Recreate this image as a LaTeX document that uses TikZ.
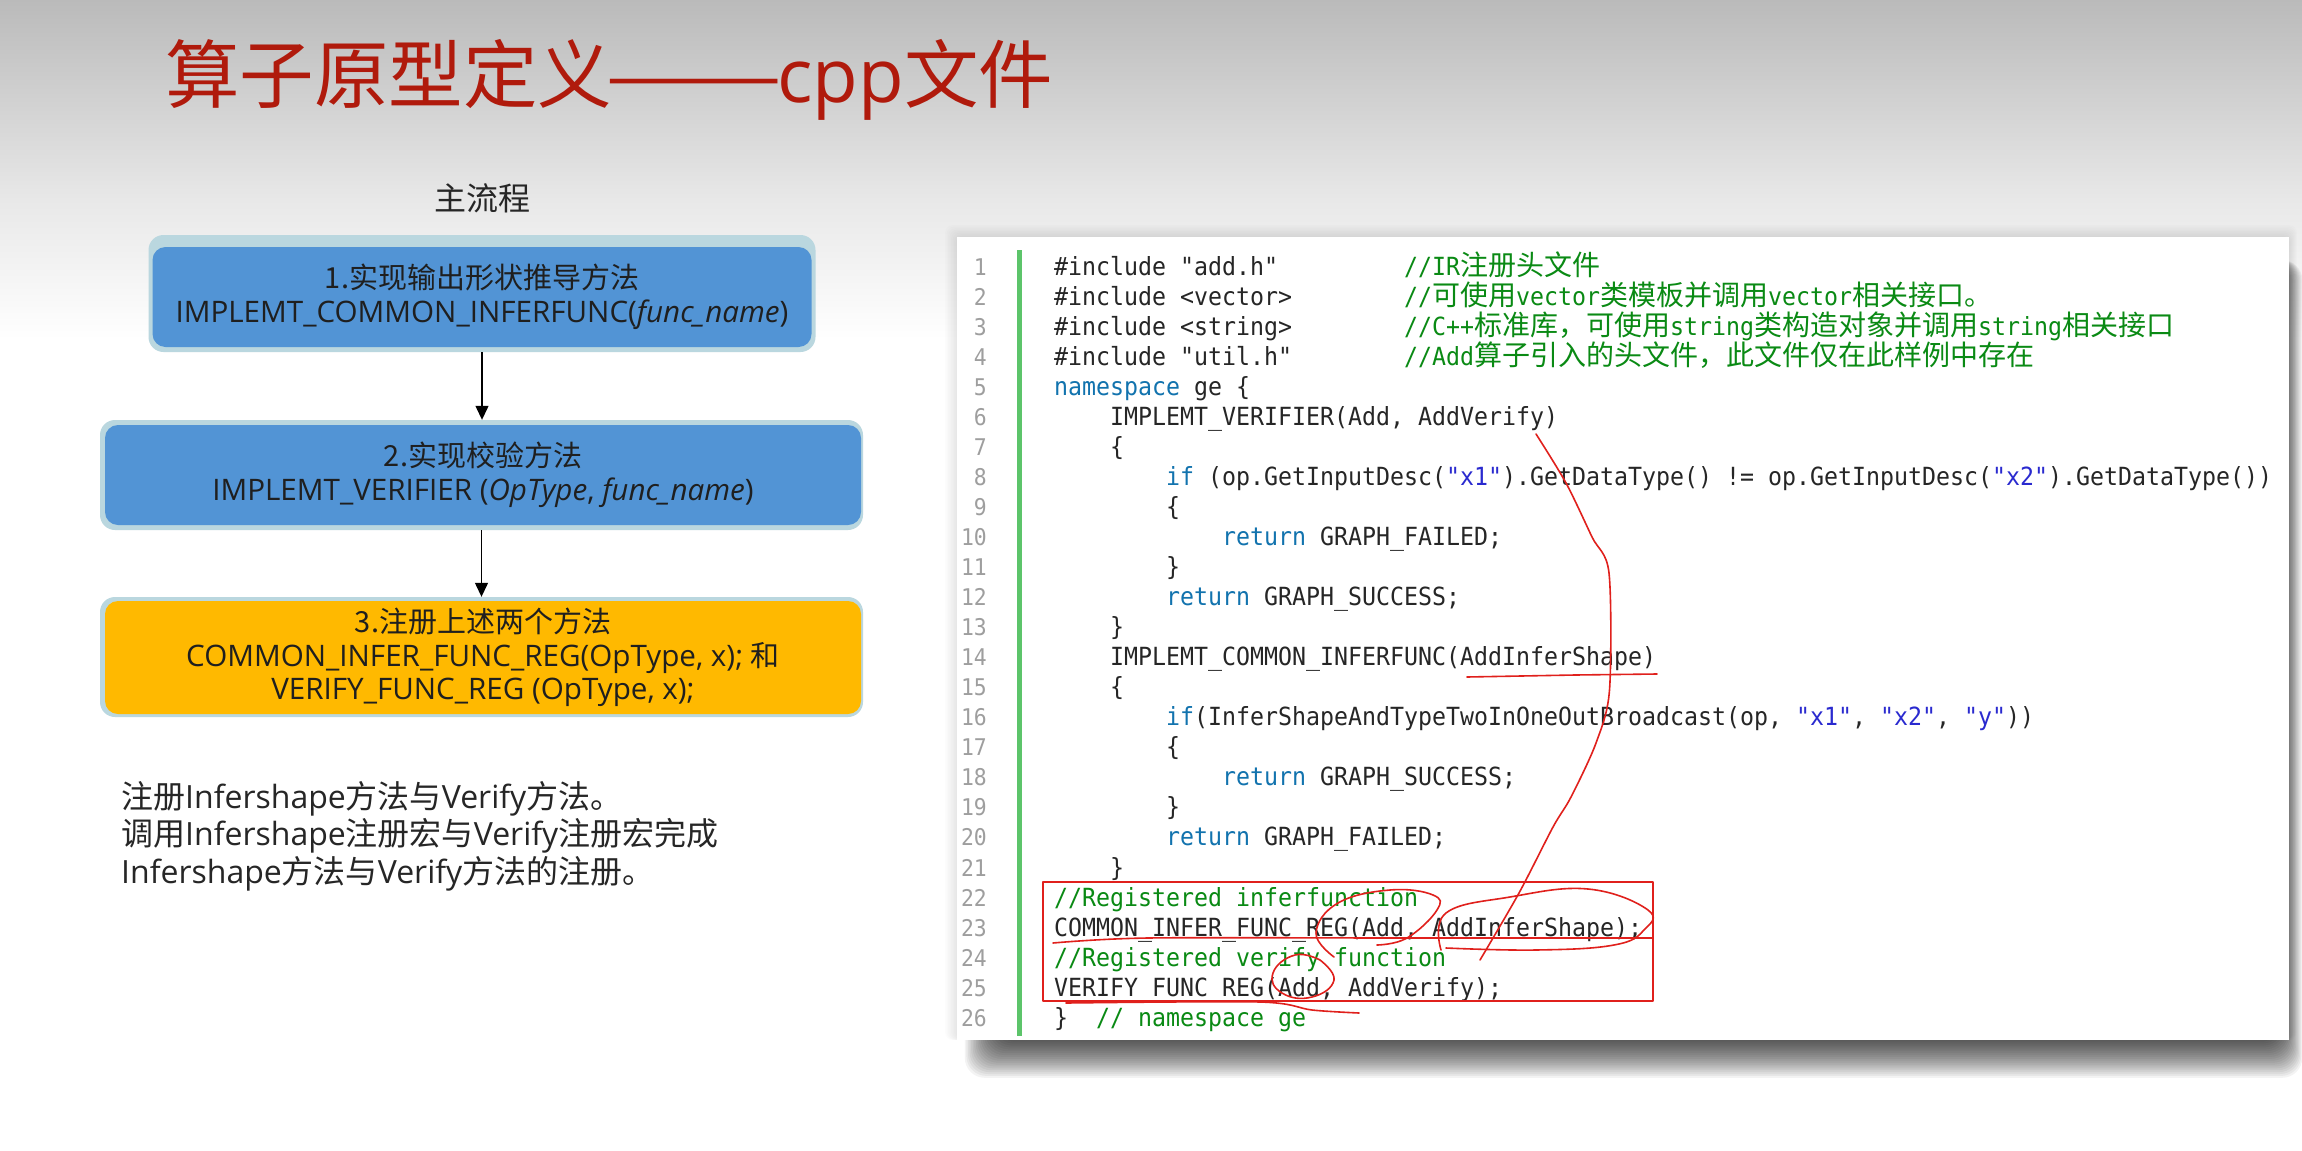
\documentclass[tikz,border=0pt]{standalone}
\usepackage{fontspec}
\usetikzlibrary{arrows.meta}
\setmainfont{Open Sans}
\newfontfamily\zhfont{Noto Sans CJK SC}
\newfontfamily\monof[FakeStretch=0.93]{DejaVu Sans Mono}
\newcommand{\zh}[1]{{\zhfont #1}}
\newcommand{\zc}[1]{{\fontsize{28}{30}\selectfont\zhfont #1}}
\newcommand{\zb}[1]{{\fontsize{29}{33.5}\selectfont\zhfont #1}}
\newcommand{\sk}[1]{\hspace*{\dimexpr 14pt*#1\relax}}
\newcommand{\monosp}{\monof\spaceskip 14pt\relax}
\definecolor{codegreen}{HTML}{0A8A14}
\definecolor{keyblue}{HTML}{1273AE}
\definecolor{strblue}{HTML}{2A2ACF}
\definecolor{codeink}{HTML}{262626}
\definecolor{penred}{HTML}{E0201C}
\definecolor{titlered}{HTML}{B01A0C}
\definecolor{boxblue}{HTML}{5294D5}
\definecolor{boxgold}{HTML}{FFB900}
\definecolor{haloc}{HTML}{BAD7DF}
\definecolor{barcol}{HTML}{5CC46A}
\newcommand{\cm}[1]{\textcolor{codegreen}{#1}}
\newcommand{\kw}[1]{\textcolor{keyblue}{#1}}
\newcommand{\st}[1]{\textcolor{strblue}{#1}}
\newcommand{\cl}[4]{\node[codeline] (#1) at ({1054+14*#3},{275+30.05*(#2-1)}) {#4};}
\tikzset{
  codeline/.style={anchor=base west,inner sep=0pt,text=codeink,
    font=\fontsize{25}{30}\selectfont\monosp},
  linenum/.style={anchor=base east,inner sep=0pt,text=black!38,
    font=\fontsize{23}{30}\selectfont\monosp},
  halobox/.style={draw=none,fill=haloc,rounded corners=15pt,inner sep=0pt},
  flowbox/.style={draw=none,rounded corners=13pt,inner sep=0pt,align=center,text=black!88,
    font=\fontsize{29.6}{33.5}\selectfont},
  flowarrow/.style={draw=black,line width=1.3pt,-{Triangle[length=14pt,width=13pt]}},
  pen/.style={draw=penred,line width=1.6pt,line cap=round,line join=round},
  plain/.style={inner sep=0pt,text=black!85,font=\fontsize{32}{37.5}\selectfont},
}
\begin{document}
\begin{tikzpicture}[x=1pt,y=-1pt]
\useasboundingbox (0,0) rectangle (2302,1151);
\fill[white] (0,0) rectangle (2302,1151);
\shade[top color=black!27,bottom color=black!9,draw=none] (0,0) rectangle (2302,200);
\shade[top color=black!9,bottom color=white,draw=none] (0,200) rectangle (2302,340);

% title
\node[anchor=west,inner sep=0pt,text=titlered,font=\fontsize{74.5}{80}\selectfont] (title) at (165,80)
  {\zh{算子原型定义}\hspace{-7pt}\scalebox{1.42}[1]{\zh{——}}\hspace{-5pt}cpp\zh{文件}};

% flow
\node[plain,anchor=center] (mainflow) at (482,198) {\zh{主流程}};
\node[halobox,minimum width=667pt,minimum height=117pt] (o1) at (482,293.5) {};
\node[flowbox,fill=boxblue,minimum width=659pt,minimum height=100pt] (b1) at (482,297)
  {\zb{1.实现输出形状推导方法}\\IMPLEMT\_COMMON\_INFERFUNC(\textit{func\_name})};
\node[halobox,minimum width=763pt,minimum height=110pt] (o2) at (481.5,475) {};
\node[flowbox,fill=boxblue,minimum width=756pt,minimum height=100pt] (b2) at (483,475)
  {\zb{2.实现校验方法}\\IMPLEMT\_VERIFIER (\textit{OpType}, \textit{func\_name})};
\node[halobox,minimum width=763pt,minimum height=120pt] (o3) at (481.5,657) {};
\node[flowbox,fill=boxgold,minimum width=756pt,minimum height=113pt] (b3) at (483,657.5)
  {\zb{3.注册上述两个方法}\\COMMON\_INFER\_FUNC\_REG(OpType, x); \zb{和}\\VERIFY\_FUNC\_REG (OpType, x);};
\draw[flowarrow] (o1.south) -- (o1.south |- o2.north);
\draw[flowarrow] (o2.south) -- (o2.south |- o3.north);

\node[plain,anchor=north west,align=left] (para) at (121,781)
  {\zh{注册}Infershape\zh{方法与}Verify\zh{方法。}\\
   \zh{调用}Infershape\zh{注册宏与}Verify\zh{注册宏完成}\\
   Infershape\zh{方法与}Verify\zh{方法的注册。}};

% code panel shadow
\foreach \i in {1,...,8}
  \fill[black,opacity=0.012,rounded corners=8pt] (957-\i*1.5,237-\i*1.5) rectangle (2289+\i,1040);
\foreach \i in {1,...,22}
  \fill[black,opacity=0.048,rounded corners=20pt] (1000-\i*1.6,260) rectangle (2278+\i*1.1,1036+\i*1.9);
\fill[white] (957,237) rectangle (2289,1040);
\fill[barcol] (1017,250) rectangle (1022,1036);

% line numbers
\foreach \i in {1,...,26}
  \node[linenum] (n\i) at (987,{275+30.05*(\i-1)}) {\i};

% code
\cl{c1}{1}{0}{\#include "add.h"\sk{9}\cm{//IR\zc{注册头文件}}}
\cl{c2}{2}{0}{\#include <vector>\sk{8}\cm{//\zc{可使用}vector\zc{类模板并调用}vector\zc{相关接口。}}}
\cl{c3}{3}{0}{\#include <string>\sk{8}\cm{//C++\zc{标准库，可使用}string\zc{类构造对象并调用}string\zc{相关接口}}}
\cl{c4}{4}{0}{\#include "util.h"\sk{8}\cm{//Add\zc{算子引入的头文件，此文件仅在此样例中存在}}}
\cl{c5}{5}{0}{\kw{namespace} ge \{}
\cl{c6}{6}{4}{IMPLEMT\_VERIFIER(Add, AddVerify)}
\cl{c7}{7}{4}{\{}
\cl{c8}{8}{8}{\kw{if} (op.GetInputDesc(\st{"x1"}).GetDataType() != op.GetInputDesc(\st{"x2"}).GetDataType())}
\cl{c9}{9}{8}{\{}
\cl{c10}{10}{12}{\kw{return} GRAPH\_FAILED;}
\cl{c11}{11}{8}{\}}
\cl{c12}{12}{8}{\kw{return} GRAPH\_SUCCESS;}
\cl{c13}{13}{4}{\}}
\cl{c14}{14}{4}{IMPLEMT\_COMMON\_INFERFUNC(AddInferShape)}
\cl{c15}{15}{4}{\{}
\cl{c16}{16}{8}{\kw{if}(InferShapeAndTypeTwoInOneOutBroadcast(op, \st{"x1"}, \st{"x2"}, \st{"y"}))}
\cl{c17}{17}{8}{\{}
\cl{c18}{18}{12}{\kw{return} GRAPH\_SUCCESS;}
\cl{c19}{19}{8}{\}}
\cl{c20}{20}{8}{\kw{return} GRAPH\_FAILED;}
\cl{c21}{21}{4}{\}}
\cl{c22}{22}{0}{\cm{//Registered inferfunction}}
\cl{c23}{23}{0}{COMMON\_INFER\_FUNC\_REG(Add, AddInferShape);}
\cl{c24}{24}{0}{\cm{//Registered verify function}}
\cl{c25}{25}{0}{VERIFY\_FUNC\_REG(Add, AddVerify);}
\cl{c26}{26}{0}{\}\sk{2}\cm{// namespace ge}}

% red annotations
\draw[pen] (1043,882) rectangle (1653,1001);
\draw[pen] plot[smooth,tension=0.5] coordinates {(1536,434) (1566,483) (1592,537) (1609,573) (1609.5,690) (1596,743) (1571,797) (1553,827) (1519,893) (1480,960)};
\draw[pen] (1467,677) -- (1575,675) -- (1657,674);
\draw[pen] plot[smooth,tension=0.7] coordinates {(1377,945) (1407,938) (1437,910) (1433,895) (1390,890) (1338,903) (1316,933) (1334,957)};
\draw[pen] plot[smooth,tension=0.7] coordinates {(1441,950) (1446,913) (1510,897) (1588,889) (1648,910) (1644,930) (1614,945) (1536,950) (1446,948)};
\draw[pen] plot[smooth,tension=0.5] coordinates {(1053,943) (1148,938) (1400,938) (1653,938)};
\draw[pen] plot[smooth,tension=0.8] coordinates {(1320,960) (1295,955) (1273,973) (1282,993) (1312,997) (1334,980) (1320,960)};
\draw[pen] plot[smooth,tension=0.5] coordinates {(1066,1003) (1260,1002) (1312,1010) (1359,1013)};
\end{tikzpicture}
\end{document}
